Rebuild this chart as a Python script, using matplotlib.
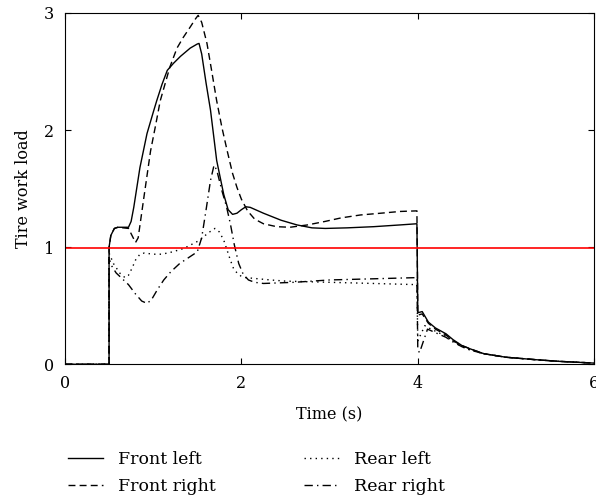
import numpy as np
import matplotlib.pyplot as plt

plt.rcParams['font.family'] = ['DejaVu Serif']

# Front left (solid)
t_fl = [0, 0.5, 0.5, 0.52, 0.56, 0.6, 0.72, 0.75, 0.78, 0.85, 0.93, 1.0, 1.04, 1.1, 1.16,
        1.23, 1.31, 1.42, 1.5, 1.52, 1.55, 1.6, 1.65, 1.72, 1.8, 1.85, 1.9, 1.95, 2.0,
        2.05, 2.1, 2.25, 2.45, 2.63, 2.8, 2.95, 3.2, 3.5, 3.8, 3.99, 4.0, 4.05, 4.12,
        4.2, 4.32, 4.4, 4.5, 4.6, 4.75, 5.0, 5.32, 5.6, 6.0]
y_fl = [0, 0, 1.0, 1.1, 1.16, 1.17, 1.17, 1.22, 1.34, 1.68, 1.97, 2.15, 2.25, 2.39, 2.51,
        2.57, 2.63, 2.70, 2.735, 2.74, 2.65, 2.40, 2.17, 1.74, 1.45, 1.32, 1.28, 1.29, 1.32,
        1.345, 1.34, 1.29, 1.23, 1.19, 1.165, 1.16, 1.165, 1.175, 1.19, 1.20, 0.44, 0.45, 0.36,
        0.31, 0.26, 0.21, 0.16, 0.13, 0.09, 0.06, 0.04, 0.025, 0.01]

# Front right (dashed)
t_fr = [0, 0.5, 0.5, 0.52, 0.56, 0.6, 0.72, 0.76, 0.8, 0.83, 0.89, 0.97, 1.03, 1.08, 1.19,
        1.27, 1.34, 1.42, 1.48, 1.51, 1.55, 1.61, 1.66, 1.72, 1.78, 1.84, 1.9, 1.95, 2.0,
        2.07, 2.15, 2.25, 2.4, 2.55, 2.75, 2.95, 3.13, 3.35, 3.58, 3.8, 3.99, 4.0, 4.05,
        4.12, 4.2, 4.32, 4.4, 4.5, 4.6, 4.75, 5.0, 5.32, 5.6, 6.0]
y_fr = [0, 0, 1.0, 1.1, 1.16, 1.17, 1.16, 1.10, 1.04, 1.08, 1.40, 1.82, 2.05, 2.25, 2.54,
        2.70, 2.79, 2.88, 2.95, 2.98, 2.92, 2.74, 2.52, 2.25, 2.02, 1.82, 1.63, 1.51, 1.41,
        1.31, 1.24, 1.20, 1.175, 1.17, 1.19, 1.22, 1.25, 1.275, 1.29, 1.305, 1.31, 0.42, 0.43,
        0.35, 0.30, 0.25, 0.20, 0.16, 0.13, 0.09, 0.06, 0.04, 0.025, 0.01]

# Rear left (dotted)
t_rl = [0, 0.5, 0.5, 0.55, 0.62, 0.68, 0.72, 0.76, 0.8, 0.85, 0.9, 1.0, 1.1, 1.22, 1.35,
        1.53, 1.62, 1.7, 1.75, 1.8, 1.84, 1.875, 1.91, 1.95, 2.0, 2.05, 2.33, 2.5, 3.0,
        3.5, 3.99, 4.0, 4.08, 4.15, 4.32, 4.4, 4.5, 4.6, 4.75, 5.0, 5.32, 5.6, 6.0]
y_rl = [0, 0, 0.95, 0.86, 0.78, 0.74, 0.76, 0.82, 0.89, 0.94, 0.95, 0.94, 0.94, 0.96, 0.99,
        1.06, 1.12, 1.16, 1.13, 1.06, 0.97, 0.89, 0.82, 0.78, 0.75, 0.74, 0.72, 0.71, 0.70,
        0.69, 0.68, 0.20, 0.33, 0.30, 0.24, 0.20, 0.15, 0.12, 0.09, 0.06, 0.04, 0.025, 0.01]

# Rear right (dash-dot)
t_rr = [0, 0.5, 0.5, 0.53, 0.58, 0.65, 0.72, 0.8, 0.87, 0.93, 0.98, 1.05, 1.12, 1.2, 1.3,
        1.4, 1.5, 1.55, 1.6, 1.65, 1.69, 1.72, 1.78, 1.83, 1.875, 1.92, 1.97, 2.02, 2.08,
        2.15, 2.25, 2.6, 3.0, 3.5, 3.99, 4.0, 4.02, 4.11, 4.2, 4.32, 4.4, 4.5, 4.6, 4.75,
        5.0, 5.32, 5.6, 6.0]
y_rr = [0, 0, 0.9, 0.84, 0.78, 0.73, 0.68, 0.60, 0.54, 0.52, 0.55, 0.64, 0.72, 0.79, 0.86,
        0.91, 0.96, 1.08, 1.32, 1.57, 1.70, 1.66, 1.48, 1.35, 1.20, 1.02, 0.86, 0.77, 0.72,
        0.70, 0.69, 0.70, 0.72, 0.73, 0.74, 0.12, 0.10, 0.30, 0.27, 0.23, 0.19, 0.15, 0.12,
        0.09, 0.06, 0.04, 0.025, 0.01]

limite = 0.99

fig = plt.figure(figsize=(5.96, 4.99), dpi=100)
ax = fig.add_axes([0.109, 0.27, 0.888, 0.704])

lw = 1.0
ax.plot(t_fl, y_fl, color='black', lw=lw, ls='-', label='Front left')
ax.plot(t_fr, y_fr, color='black', lw=lw, ls=(0, (5, 3)), label='Front right')
ax.plot(t_rl, y_rl, color='black', lw=lw, ls=(0, (1, 3)), label='Rear left')
ax.plot(t_rr, y_rr, color='black', lw=lw, ls=(0, (6, 3, 1, 3)), label='Rear right')
ax.axhline(limite, color='red', lw=1.2)

ax.set_xlim(0, 6)
ax.set_ylim(0, 3)
ax.set_xticks([0, 2, 4, 6])
ax.set_yticks([0, 1, 2, 3])
ax.tick_params(direction='in', top=True, right=True, length=4, labelsize=11.5, pad=8)
ax.set_xlabel('Time (s)', fontsize=11.5, labelpad=10)
ax.set_ylabel('Tire work load', fontsize=11.5, labelpad=8)

h, l = ax.get_legend_handles_labels()
fig.legend(h, l, ncol=2, frameon=False,
           loc='upper left', bbox_to_anchor=(68 / 596, 0.097), fontsize=12.5,
           borderpad=0, borderaxespad=0,
           handlelength=2.0, columnspacing=5.1, labelspacing=0.6, handletextpad=0.86)

plt.savefig('out.png', dpi=100)
